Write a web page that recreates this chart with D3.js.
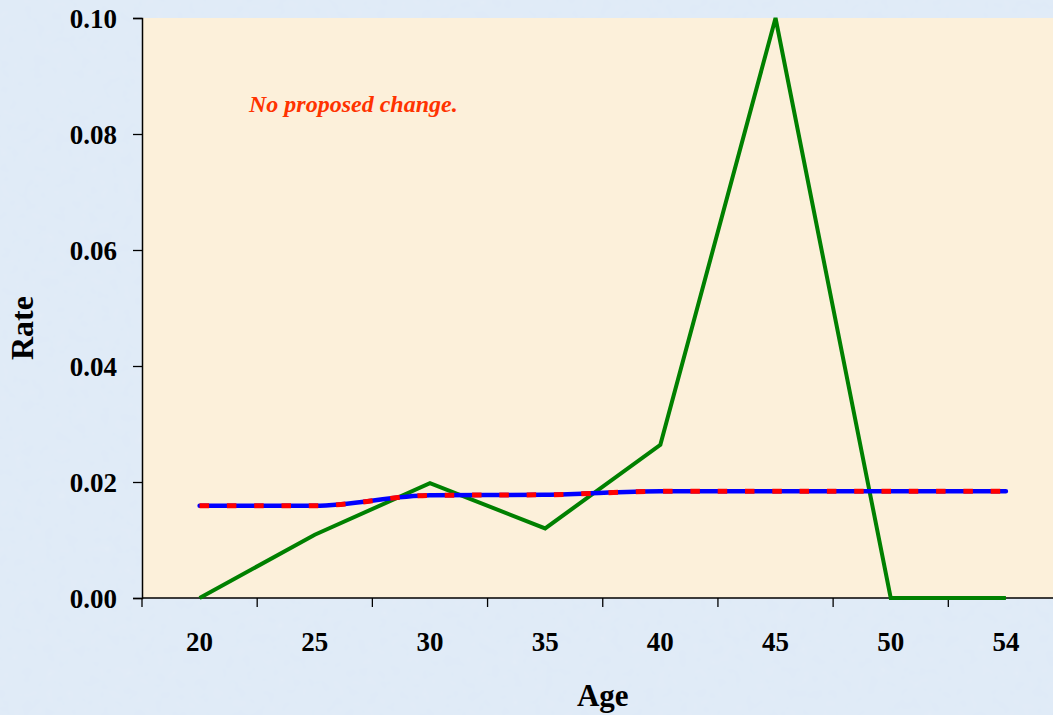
<!DOCTYPE html>
<html><head><meta charset="utf-8">
<script src="https://cdn.jsdelivr.net/npm/d3@7"></script>
<style>html,body{margin:0;padding:0;overflow:hidden;background:#dbe7f4;}svg{display:block;}</style>
</head><body>
<script>
const ages = ["20","25","30","35","40","45","50","54"];
const actualRates = [0.0, 0.0109, 0.0198, 0.0120, 0.0264, 0.1000, 0.0, 0.0];
const currentRates = [0.0159, 0.0159, 0.0177, 0.0178, 0.0184, 0.0184, 0.0184, 0.0184];
const proposedRates = [0.0159, 0.0159, 0.0177, 0.0178, 0.0184, 0.0184, 0.0184, 0.0184];
const yTicks = [0, 0.02, 0.04, 0.06, 0.08, 0.10];
const note = "No proposed change.";

(function(){
const W = 1053, H = 715;
const pL = 142, pR = 1063.5, pT = 18, pB = 598;
const svg = d3.select("body").append("svg").attr("width", W).attr("height", H);

const defs = svg.append("defs");
const f1 = defs.append("filter").attr("id","texB").attr("x",0).attr("y",0).attr("width","100%").attr("height","100%");
f1.append("feTurbulence").attr("type","fractalNoise").attr("baseFrequency","0.09").attr("numOctaves",2).attr("seed",3).attr("result","n");
f1.append("feColorMatrix").attr("in","n").attr("type","matrix")
  .attr("values","0 0 0 0 0.78  0 0 0 0 0.85  0 0 0 0 0.94  0 0 0 0.6 -0.1").attr("result","c");
f1.append("feComposite").attr("in","c").attr("in2","SourceGraphic").attr("operator","over");

svg.append("rect").attr("width",W).attr("height",H).attr("fill","#dfeaf7").attr("filter","url(#texB)");
svg.append("rect").attr("x",pL).attr("y",pT).attr("width",pR-pL).attr("height",pB-pT).attr("fill","#fcf0da");

const x = d3.scaleBand().domain(ages).range([pL, pR]);
const y = d3.scaleLinear().domain([0, 0.10]).range([pB, pT]);
const cx = d => x(d) + x.bandwidth()/2;
const serif = "'Liberation Serif', 'Times New Roman', serif";

// Y axis
const yAxis = svg.append("g").attr("transform",`translate(${pL},0)`)
  .call(d3.axisLeft(y).tickValues(yTicks).tickFormat(d3.format(".2f")).tickSize(9).tickPadding(16));
yAxis.select(".domain").attr("stroke","#000").attr("stroke-width",1.5);
yAxis.selectAll(".tick line").attr("stroke","#000").attr("stroke-width",1.3);
yAxis.selectAll("text").attr("font-family",serif)
  .attr("font-weight","bold").attr("font-size",27).attr("fill","#000").attr("dy","0.34em");

// X axis
const xg = svg.append("g");
xg.append("line").attr("x1",pL).attr("x2",pR).attr("y1",pB).attr("y2",pB).attr("stroke","#000").attr("stroke-width",1.5);
const bounds = ages.map(a => x(a)).concat([x.range()[1]]);
xg.selectAll("line.t").data(bounds).join("line").attr("class","t")
  .attr("x1",d=>d).attr("x2",d=>d).attr("y1",pB).attr("y2",pB+9).attr("stroke","#000").attr("stroke-width",1.3);
xg.selectAll("text").data(ages).join("text")
  .attr("x",d=>cx(d)).attr("y",651).attr("text-anchor","middle")
  .attr("font-family",serif).attr("font-weight","bold").attr("font-size",27)
  .text(d=>d);

// Axis titles
svg.append("text").attr("x",(pL+pR)/2).attr("y",706).attr("text-anchor","middle")
  .attr("font-family",serif).attr("font-weight","bold").attr("font-size",31).text("Age");
svg.append("text").attr("transform","translate(33,328) rotate(-90)").attr("text-anchor","middle")
  .attr("font-family",serif).attr("font-weight","bold").attr("font-size",32).text("Rate");

// Lines
const lineStraight = d3.line().x((d,i)=>cx(ages[i])).y(d=>y(d));
const lineSmooth = d3.line().x((d,i)=>cx(ages[i])).y(d=>y(d)).curve(d3.curveMonotoneX);

svg.append("path").datum(actualRates).attr("d",lineStraight).attr("fill","none")
  .attr("stroke","#008000").attr("stroke-width",4).attr("stroke-linejoin","miter");
svg.append("path").datum(currentRates).attr("d",lineSmooth).attr("fill","none")
  .attr("stroke","#0000ff").attr("stroke-width",4.5).attr("stroke-linecap","round");
svg.append("path").datum(proposedRates).attr("d",lineSmooth).attr("fill","none")
  .attr("stroke","#ff0000").attr("stroke-width",5).attr("stroke-dasharray","9.5,17.8");

// Note
svg.append("text").attr("x",249).attr("y",112)
  .attr("font-family",serif).attr("font-weight","bold").attr("font-style","italic")
  .attr("font-size",24).attr("fill","#ff3300").text(note);
})();
</script>
</body></html>
